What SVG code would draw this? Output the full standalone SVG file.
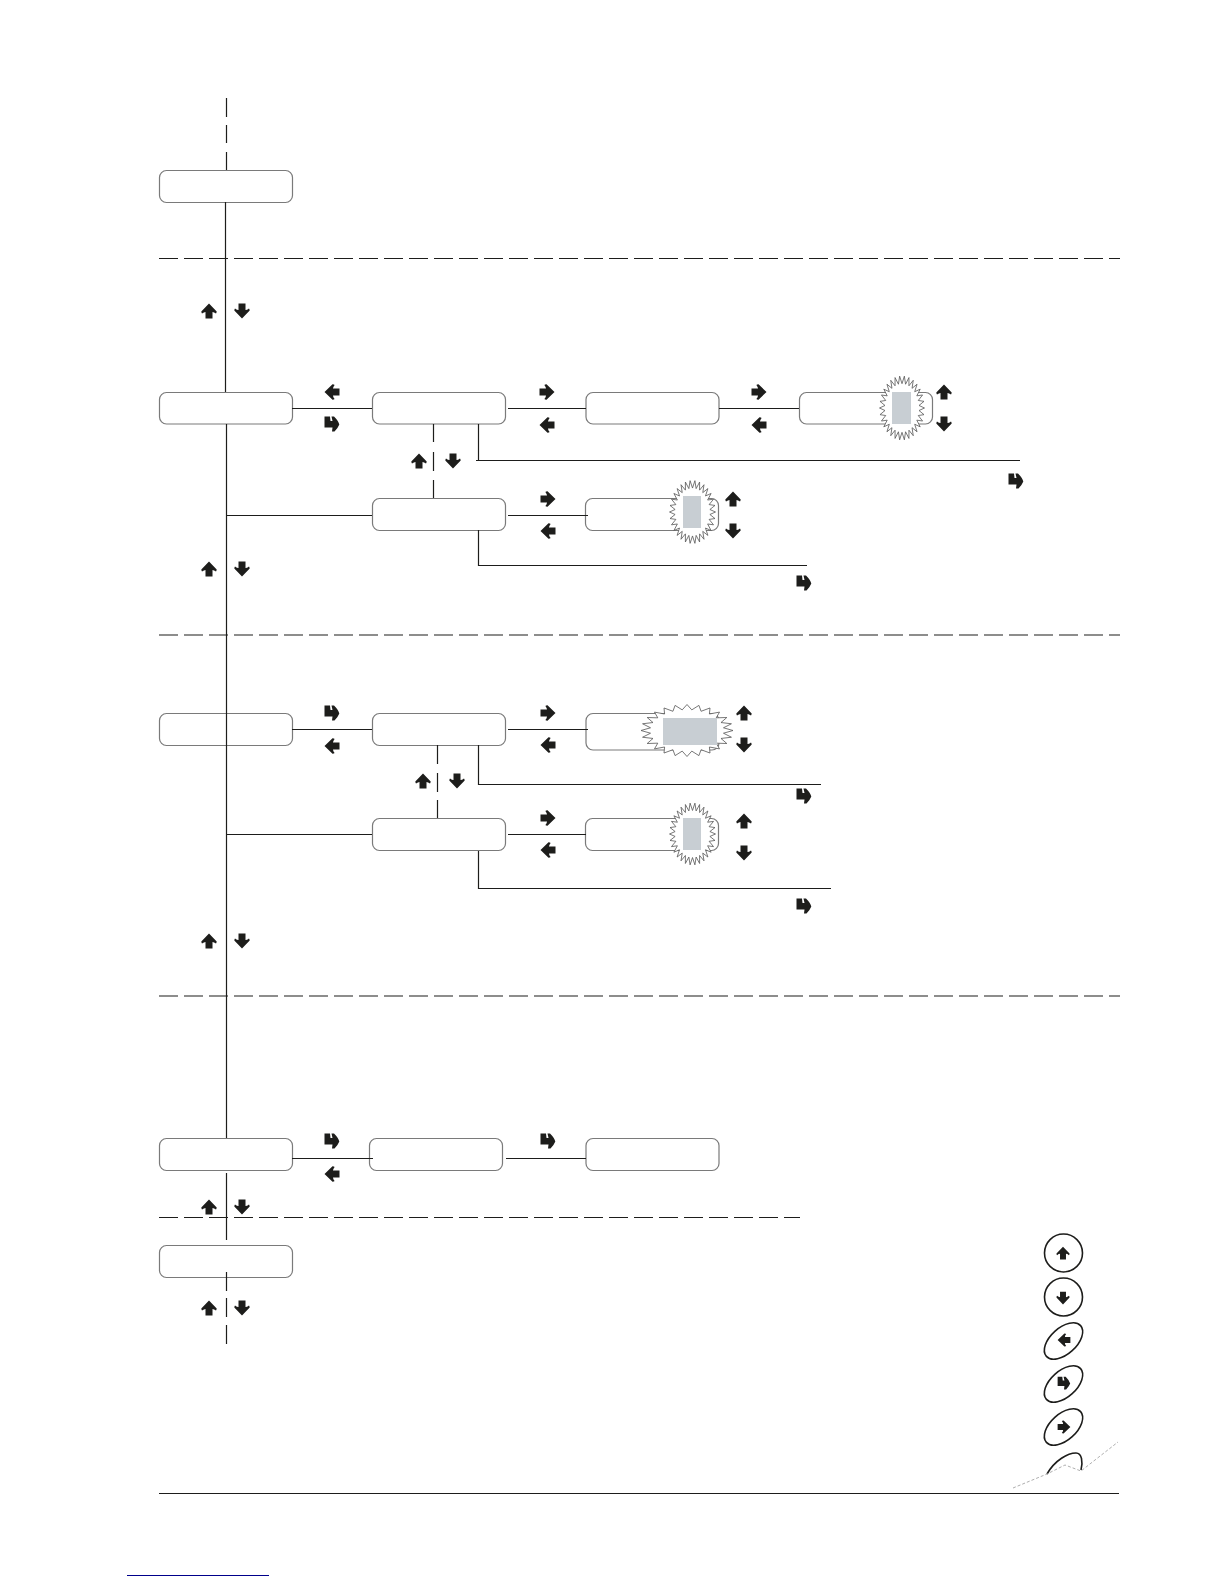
<svg xmlns="http://www.w3.org/2000/svg" xmlns:xlink="http://www.w3.org/1999/xlink" width="1224" height="1584" viewBox="0 0 1224 1584">
<style>
.box{fill:#fff;stroke:#7a7a7a;stroke-width:1.2}
.ln{fill:none;stroke:#1d1d1b;stroke-width:1.2}
.dash{fill:none;stroke:#1d1d1b;stroke-width:1.2;stroke-dasharray:19 6}
.burst{fill:#fff;stroke:#555;stroke-width:.8;vector-effect:non-scaling-stroke}
.gray{fill:#c8ced3}
.ring{fill:none;stroke:#1d1d1b;stroke-width:1.6}
.key{fill:#1d1d1b}
</style>
<defs>
<path id="up" class="key" d="M0,-7.5L7.7,0.5Q7.5,2.2 7,2.6Q5,1 3.5,1L3.5,7.5L-3.5,7.5L-3.5,1Q-5,1 -7,2.6Q-7.5,2.2 -7.7,0.5Z"/>
<use id="down" xlink:href="#up" href="#up" transform="rotate(180)"/>
<use id="left" xlink:href="#up" href="#up" transform="rotate(-90)"/>
<use id="right" xlink:href="#up" href="#up" transform="rotate(90)"/>
<path id="enter" class="key" d="M-7.500,-7.500L-2,-7.500L-1.500,-3L0.500,-3L-0.500,-7.500L2,-7.500Q6.500,-3 7.300,0.500Q6,4 2.500,7.500L0,7.500L0.500,3.500L-7.500,3.500Z"/>
<polygon id="star" class="burst" points="100,0 75.6,7.9 97.8,20.8 72.3,23.5 91.4,40.7 65.8,38 80.9,58.8 56.5,50.9 66.9,74.3 44.7,61.5 50,86.6 30.9,69.4 30.9,95.1 15.8,74.3 10.5,99.5 0,76 -10.5,99.5 -15.8,74.3 -30.9,95.1 -30.9,69.4 -50,86.6 -44.7,61.5 -66.9,74.3 -56.5,50.9 -80.9,58.8 -65.8,38 -91.4,40.7 -72.3,23.5 -97.8,20.8 -75.6,7.9 -100,0 -75.6,-7.9 -97.8,-20.8 -72.3,-23.5 -91.4,-40.7 -65.8,-38 -80.9,-58.8 -56.5,-50.9 -66.9,-74.3 -44.7,-61.5 -50,-86.6 -30.9,-69.4 -30.9,-95.1 -15.8,-74.3 -10.5,-99.5 0,-76 10.5,-99.5 15.8,-74.3 30.9,-95.1 30.9,-69.4 50,-86.6 44.7,-61.5 66.9,-74.3 56.5,-50.9 80.9,-58.8 65.8,-38 91.4,-40.7 72.3,-23.5 97.8,-20.8 75.6,-7.9"/>
<polygon id="wide" class="burst" points="100,0 79.3,10.4 96.6,25.9 73.9,30.6 86.6,50 63.5,48.7 70.7,70.7 48.7,63.5 50,86.6 30.6,73.9 25.9,96.6 10.4,79.3 0,100 -10.4,79.3 -25.9,96.6 -30.6,73.9 -50,86.6 -48.7,63.5 -70.7,70.7 -63.5,48.7 -86.6,50 -73.9,30.6 -96.6,25.9 -79.3,10.4 -100,0 -79.3,-10.4 -96.6,-25.9 -73.9,-30.6 -86.6,-50 -63.5,-48.7 -70.7,-70.7 -48.7,-63.5 -50,-86.6 -30.6,-73.9 -25.9,-96.6 -10.4,-79.3 0,-100 10.4,-79.3 25.9,-96.6 30.6,-73.9 50,-86.6 48.7,-63.5 70.7,-70.7 63.5,-48.7 86.6,-50 73.9,-30.6 96.6,-25.9 79.3,-10.4"/>
</defs>
<rect width="1224" height="1584" fill="#fff"/>

<g id="n1"><rect class="box" x="159.500" y="170.500" width="133" height="32" rx="7"/></g>
<g id="n2"><rect class="box" x="159.500" y="392.500" width="133" height="31.500" rx="7"/></g>
<g id="n3"><rect class="box" x="372.500" y="392.500" width="133" height="31.500" rx="7"/></g>
<g id="n4"><rect class="box" x="586" y="392.500" width="133" height="31.500" rx="7"/></g>
<g id="n5"><rect class="box" x="799.500" y="392.500" width="133" height="31.500" rx="7"/></g>
<g id="n6"><rect class="box" x="372.500" y="498.500" width="133" height="32" rx="7"/></g>
<g id="n7"><rect class="box" x="585.500" y="498.500" width="133" height="32" rx="7"/></g>
<g id="n8"><rect class="box" x="159.500" y="713.500" width="133" height="32" rx="7"/></g>
<g id="n9"><rect class="box" x="372.500" y="713.500" width="133" height="32" rx="7"/></g>
<g id="n10"><rect class="box" x="586" y="713.500" width="133" height="36.500" rx="7"/></g>
<g id="n11"><rect class="box" x="372.500" y="818.500" width="133" height="32" rx="7"/></g>
<g id="n12"><rect class="box" x="585.500" y="818.500" width="133" height="32" rx="7"/></g>
<g id="n13"><rect class="box" x="159.500" y="1138.500" width="133" height="32" rx="7"/></g>
<g id="n14"><rect class="box" x="369.500" y="1138.500" width="133" height="32" rx="7"/></g>
<g id="n15"><rect class="box" x="586" y="1138.500" width="133" height="32" rx="7"/></g>
<g id="n16"><rect class="box" x="159.500" y="1245.500" width="133" height="32" rx="7"/></g>

<g id="connectors">
<path class="ln" d="M226.500,98V117M226.500,125V143M226.500,152V170"/>
<path class="ln" d="M225.500,202V392M226.500,424V1138M226.500,1173V1240M226.500,1272V1291M226.500,1298V1317M226.500,1325V1344"/>
<path class="dash" d="M159,258.500H1120M159,635H1120M159,996H1120M159,1217.500H800"/>
<path class="ln" d="M292,408.500H372M508,408.500H586M719,408.500H799"/>
<path class="ln" d="M433.500,424V442M433.500,452V471M433.500,480V498"/>
<path class="ln" d="M478.500,424V460.500M476,460.500H1020"/>
<path class="ln" d="M227,515.500H372M508,515.500H588"/>
<path class="ln" d="M478.500,530V565.500H807"/>
<path class="ln" d="M292,729.500H372M508,729.500H588"/>
<path class="ln" d="M437.500,745V764M437.500,773V792M437.500,800V818"/>
<path class="ln" d="M478.500,745V784.500H821"/>
<path class="ln" d="M227,834.500H372M508,834.500H586"/>
<path class="ln" d="M478.500,851V888.500H831"/>
<path class="ln" d="M292,1158.500H373M506,1158.500H586"/>
<path class="ln" d="M159,1493.500H1119"/>
</g>

<g id="bursts">
<use xlink:href="#star" href="#star" transform="translate(902 408) scale(.225 .32)"/>
<rect class="gray" x="892" y="392" width="19" height="32"/>
<use xlink:href="#star" href="#star" transform="translate(692.500 512) scale(.23 .315)"/>
<rect class="gray" x="683" y="496" width="18" height="32"/>
<use xlink:href="#wide" href="#wide" transform="translate(687 730.500) scale(.46 .26)"/>
<rect class="gray" x="663" y="718" width="54" height="27"/>
<use xlink:href="#star" href="#star" transform="translate(692.500 834) scale(.23 .31)"/>
<rect class="gray" x="683" y="818" width="18" height="32"/>
</g>

<g id="keys">
<use href="#up" x="209" y="311"/><use href="#down" transform="translate(242 311)"/>
<use href="#left" transform="translate(332 392)"/><use href="#enter" transform="translate(332 424)"/>
<use href="#right" transform="translate(547 392)"/><use href="#left" transform="translate(547 425)"/>
<use href="#right" transform="translate(759 392)"/><use href="#left" transform="translate(759 425)"/>
<use href="#up" x="944" y="392"/><use href="#down" transform="translate(944 424)"/>
<use href="#enter" transform="translate(1016 481)"/>
<use href="#up" x="419" y="461"/><use href="#down" transform="translate(453 461)"/>
<use href="#right" transform="translate(548 499)"/><use href="#left" transform="translate(548 531)"/>
<use href="#up" x="733" y="499"/><use href="#down" transform="translate(733 531)"/>
<use href="#enter" transform="translate(804 583)"/>
<use href="#up" x="209" y="569"/><use href="#down" transform="translate(242 569)"/>
<use href="#enter" transform="translate(332 713)"/><use href="#left" transform="translate(332 746)"/>
<use href="#right" transform="translate(548 713)"/><use href="#left" transform="translate(548 745)"/>
<use href="#up" x="744" y="713"/><use href="#down" transform="translate(744 745)"/>
<use href="#up" x="423" y="781"/><use href="#down" transform="translate(457 781)"/>
<use href="#enter" transform="translate(804 796)"/>
<use href="#right" transform="translate(548 818)"/><use href="#left" transform="translate(548 850)"/>
<use href="#up" x="744" y="821"/><use href="#down" transform="translate(744 853)"/>
<use href="#enter" transform="translate(804 906)"/>
<use href="#up" x="209" y="941"/><use href="#down" transform="translate(242 941)"/>
<use href="#enter" transform="translate(332 1141)"/><use href="#left" transform="translate(332 1174)"/>
<use href="#enter" transform="translate(548 1141)"/>
<use href="#up" x="209" y="1207"/><use href="#down" transform="translate(242 1207)"/>
<use href="#up" x="209" y="1308"/><use href="#down" transform="translate(242 1308)"/>
</g>

<g id="legend">
<circle class="ring" cx="1063.500" cy="1253" r="19"/>
<use href="#up" transform="translate(1063 1253) scale(.85)"/>
<circle class="ring" cx="1063.500" cy="1297" r="19"/>
<use href="#down" transform="translate(1063 1298) scale(.85)"/>
<ellipse class="ring" cx="1063.500" cy="1341" rx="23" ry="13" transform="rotate(-42 1063.500 1341)"/>
<use href="#left" transform="translate(1064 1340) scale(.85)"/>
<ellipse class="ring" cx="1063.500" cy="1384" rx="23" ry="13" transform="rotate(-42 1063.500 1384)"/>
<use href="#enter" transform="translate(1064 1383) scale(.85)"/>
<ellipse class="ring" cx="1063.500" cy="1427" rx="23" ry="13" transform="rotate(-42 1063.500 1427)"/>
<use href="#right" transform="translate(1064 1427) scale(.85)"/>
<path class="ring" d="M1047,1474C1055,1460 1068,1453 1076,1453C1082,1453 1083,1462 1081,1470"/>
<path fill="none" stroke="#999" stroke-width=".8" stroke-dasharray="3 2" d="M1013,1488L1047,1474L1065,1465L1081,1471L1118,1442"/>
</g>
<path d="M127,1575.500H269" fill="none" stroke="#00008b" stroke-width="1.2"/>
</svg>
